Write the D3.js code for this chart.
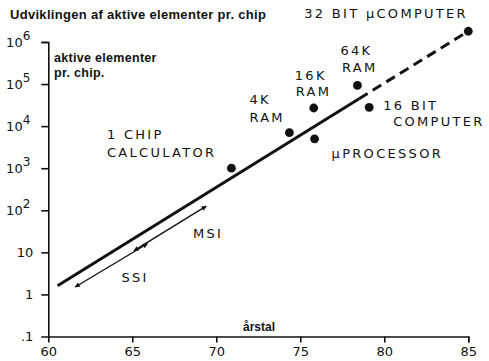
<!DOCTYPE html>
<html>
<head>
<meta charset="utf-8">
<script src="https://cdn.jsdelivr.net/npm/d3@7"></script>
<style>
  body { margin: 0; background: #fff; }
  text { fill: #111; }
  .lab { font-family: "DejaVu Sans", sans-serif; font-size: 13px; letter-spacing: 2.3px; }
  .bold { font-family: "Liberation Sans", Arial, sans-serif; font-weight: bold; font-size: 12px; }
</style>
</head>
<body>
<div id="chart"></div>
<script>
// chips: year, number of active elements per chip
const years  = [70.9, 74.35, 75.8, 75.85, 78.4, 79.1, 85.0];
const counts = [1000, 7000, 27000, 5000, 93000, 28000, 1.8e6];
const names  = [["1 CHIP", "CALCULATOR"], ["4K", "RAM"], ["16K", "RAM"], ["\u00b5PROCESSOR"],
                ["64K", "RAM"], ["16 BIT", "COMPUTER"], ["32 BIT \u00b5COMPUTER"]];

// trend line: solid part, then dashed prognosis
const trendYears  = [60.55, 78.5, 85.0];
const trendCounts = [1.6, 45000, 1.8e6];

// SSI / MSI ranges
const ranges = [
  {name: "SSI", from: [61.6, 1.5], to: [65.9, 16]},
  {name: "MSI", from: [65.1, 11], to: [69.4, 125]}
];

const xTicks = [60, 65, 70, 75, 80, 85];
const yTicks = [0.1, 1, 10, 100, 1e3, 1e4, 1e5, 1e6];
const yLabels = [".1", "1", "10", "10^2", "10^3", "10^4", "10^5", "10^6"];

const width = 489, height = 361;
const svg = d3.select("#chart").append("svg")
    .attr("width", width)
    .attr("height", height)
    .style("background", "#fff");

const x = d3.scaleLinear().domain([60, 85]).range([48.3, 468.3]);
const y = d3.scaleLog().domain([0.1, 1e6]).range([336.5, 42]);

svg.append("defs").append("marker")
    .attr("id", "head")
    .attr("viewBox", "0 0 10 10")
    .attr("refX", 9).attr("refY", 5)
    .attr("markerWidth", 7).attr("markerHeight", 5)
    .attr("markerUnits", "userSpaceOnUse")
    .attr("orient", "auto-start-reverse")
  .append("path")
    .attr("d", "M0,0L10,5L0,10z")
    .attr("fill", "#111");

// axes
const xAxis = svg.append("g")
    .attr("transform", `translate(0,${y(0.1)})`)
    .call(d3.axisBottom(x).tickValues(xTicks).tickSizeOuter(0).tickSize(6).tickPadding(5));
xAxis.selectAll(".tick").filter(d => d === 60).select("line").remove();

const yAxis = svg.append("g")
    .attr("transform", `translate(${x(60)},0)`)
    .call(d3.axisLeft(y).tickValues(yTicks).tickSizeOuter(0).tickSize(7).tickPadding(8)
      .tickFormat((d, i) => yLabels[i]));
yAxis.selectAll(".tick").filter(d => d === 0.1).select("line").remove();

svg.selectAll(".domain, .tick line").attr("stroke", "#111").attr("stroke-width", 1.6);
svg.selectAll(".tick text")
    .attr("font-family", "DejaVu Sans, sans-serif")
    .attr("font-size", 13)
    .attr("fill", "#111");
xAxis.selectAll(".tick text").attr("dy", "0.68em");

yAxis.selectAll(".tick text").each(function(d, i) {
  const parts = yLabels[i].split("^");
  const t = d3.select(this).text(parts[0]);
  if (parts[1]) {
    t.attr("dx", -3);
    t.append("tspan").attr("dy", "-0.55em").attr("font-size", 12).text(parts[1]);
  }
});

// trend line
const line = d3.line().x(d => x(d[0])).y(d => y(d[1]));
const trend = d3.zip(trendYears, trendCounts);
svg.append("path")
    .attr("d", line(trend.slice(0, 2)))
    .attr("fill", "none").attr("stroke", "#111").attr("stroke-width", 3);
svg.append("path")
    .attr("d", line(trend.slice(1)))
    .attr("fill", "none").attr("stroke", "#111").attr("stroke-width", 3)
    .attr("stroke-dasharray", "10,6");

// SSI / MSI arrows
svg.selectAll("path.range")
  .data(ranges)
  .join("path")
    .attr("class", "range")
    .attr("d", d => line([d.from, d.to]))
    .attr("stroke", "#111").attr("stroke-width", 1.4)
    .attr("marker-start", "url(#head)")
    .attr("marker-end", "url(#head)");

svg.append("text").attr("class", "lab").attr("x", 121.5).attr("y", 281.7).text("SSI");
svg.append("text").attr("class", "lab").attr("x", 193).attr("y", 238).text("MSI");

// chips
svg.selectAll("circle.chip")
  .data(years)
  .join("circle")
    .attr("class", "chip")
    .attr("cx", d => x(d))
    .attr("cy", (d, i) => y(counts[i]))
    .attr("r", 4.4)
    .attr("fill", "#111");

// label placement relative to the dot: [dx, dy] for each line
const labelOffsets = [
  [[-124.5, -29], [-124.5, -11]],
  [[-40, -29], [-40, -11]],
  [[-19, -28], [-18, -11.5]],
  [[17, 19.5]],
  [[-17, -30], [-15.5, -13]],
  [[14, 2.5], [24, 19]],
  [[-164, -13]]
];

names.forEach((lines, i) => {
  const cx = x(years[i]), cy = y(counts[i]);
  lines.forEach((s, j) => {
    svg.append("text").attr("class", "lab")
        .attr("x", cx + labelOffsets[i][j][0])
        .attr("y", cy + labelOffsets[i][j][1])
        .text(s);
  });
});

// titles
svg.append("text").attr("class", "bold").attr("x", 10).attr("y", 18.5)
    .style("font-size", "13px").style("letter-spacing", "0.3px")
    .text("Udviklingen af aktive elementer pr. chip");
svg.append("text").attr("class", "bold").attr("x", 54).attr("y", 61.5)
    .style("font-size", "12.5px").style("letter-spacing", "0.3px").text("aktive elementer");
svg.append("text").attr("class", "bold").attr("x", 54).attr("y", 76.5)
    .style("font-size", "12.5px").style("letter-spacing", "0.3px").text("pr. chip.");
svg.append("text").attr("class", "bold").attr("x", 243).attr("y", 331).text("årstal");
</script>
</body>
</html>
